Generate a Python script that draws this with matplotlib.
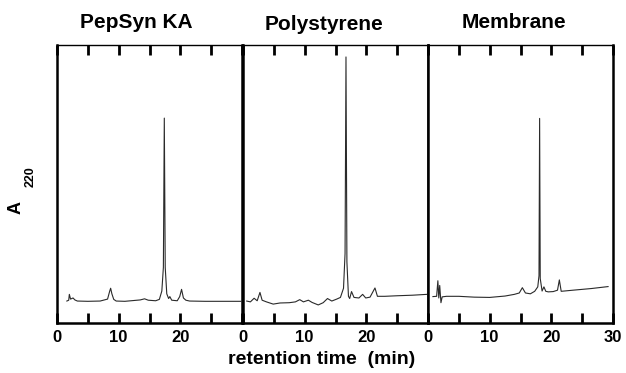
import matplotlib
matplotlib.use("Agg")
import matplotlib.pyplot as plt

plt.rcParams['font.family'] = ['Liberation Sans', 'DejaVu Sans']

titles = ["PepSyn KA", "Polystyrene", "Membrane"]

pepsyn_t = [1.6, 1.9, 2.0, 2.2, 2.6, 2.9, 3.3, 5.0, 7.0, 8.2, 8.55, 8.7, 8.9, 9.2, 9.6, 11.0,
            13.5, 14.2, 14.8, 16.0, 16.6, 17.0, 17.25, 17.4, 17.55, 17.8, 18.1, 18.3, 18.6,
            19.5, 19.9, 20.2, 20.5, 20.9, 21.5, 24.0, 27.0, 29.8]
pepsyn_a = [7.9, 8.2, 10.3, 8.6, 9.0, 8.3, 7.9, 7.8, 7.9, 8.6, 11.5, 12.5, 10.5, 8.5, 7.9, 7.8,
            8.3, 8.7, 8.2, 8.0, 8.5, 11.5, 20.0, 73.7, 20.0, 10.5, 8.8, 9.5, 8.2,
            8.0, 9.5, 12.1, 9.0, 8.2, 7.9, 7.8, 7.8, 7.8]

poly_t = [0.6, 1.2, 1.8, 2.3, 2.75, 3.1, 3.8, 4.9, 6.0, 7.5, 8.5, 9.2, 9.8, 10.6, 11.2, 12.2,
          13.0, 13.7, 14.4, 15.2, 15.8, 16.3, 16.55, 16.7, 16.85, 17.1, 17.3, 17.6, 18.0,
          18.8, 19.4, 19.9, 20.6, 21.4, 21.8, 23.0, 25.0, 27.5, 29.8]
poly_a = [7.9, 7.6, 8.9, 8.0, 11.0, 8.2, 7.6, 6.8, 7.2, 7.3, 7.6, 8.4, 7.6, 8.2, 7.4, 6.5,
          7.3, 8.8, 7.9, 8.6, 9.2, 12.5, 25.0, 95.7, 22.0, 9.6, 8.8, 11.3, 9.2,
          9.0, 10.3, 9.0, 9.3, 12.6, 9.6, 9.6, 9.8, 10.0, 10.3]

memb_t = [0.8, 1.4, 1.6, 1.75, 1.9, 2.1, 2.3, 3.0, 5.0, 7.5, 10.0, 12.5, 14.0, 14.8, 15.3,
          15.8, 16.6, 17.3, 17.8, 18.0, 18.1, 18.2, 18.5, 18.8, 19.1, 19.5, 20.3, 21.0,
          21.3, 21.6, 23.5, 26.5, 29.2]
memb_a = [9.5, 9.6, 15.2, 9.0, 13.5, 7.3, 9.4, 9.6, 9.6, 9.3, 9.2, 9.7, 10.3, 10.8, 12.7,
          10.8, 10.5, 11.4, 13.0, 17.0, 73.6, 16.0, 11.5, 13.0, 11.4, 11.2, 11.3, 11.8,
          15.5, 11.4, 11.8, 12.4, 13.1]

traces = [(pepsyn_t, pepsyn_a), (poly_t, poly_a), (memb_t, memb_a)]
tick_pos = [0, 5, 10, 15, 20, 25, 30]
tick_labels = [["0", "", "10", "", "20", "", ""],
               ["0", "", "10", "", "20", "", ""],
               ["0", "", "10", "", "20", "", "30"]]

W, H = 626, 373
fig = plt.figure(figsize=(W / 100, H / 100), dpi=100)
lefts = [57, 243, 428]
width = 185
top, bottom = 45, 323

title_pos = [(136, 23), (324, 25), (514, 23)]

for i in range(3):
    ax = fig.add_axes([lefts[i] / W, 1 - bottom / H, width / W, (bottom - top) / H])
    t, a = traces[i]
    ax.plot(t, a, color='#2a2a2a', lw=0.8)
    ax.set_xlim(0, 30)
    ax.set_ylim(0, 100)
    ax.set_yticks([])
    ax.set_xticks(tick_pos)
    ax.set_xticklabels(tick_labels[i], fontsize=12, fontweight='bold')
    ax.tick_params(axis='x', direction='in', top=True, length=7, width=2, pad=5)
    for s in ax.spines.values():
        s.set_linewidth(1.8)
    ax.spines['top'].set_linewidth(1.0)
    fig.text(title_pos[i][0] / W, 1 - title_pos[i][1] / H, titles[i],
             ha='center', va='center', fontsize=15, fontweight='bold')

fig.text(322 / W, 1 - 360 / H, "retention time  (min)", ha='center', va='center',
         fontsize=14, fontweight='bold')
fig.text(16 / W, 1 - 207 / H, "A", rotation=90, ha='center', va='center',
         fontsize=13, fontweight='bold')
fig.text(31 / W, 1 - 177 / H, "220", rotation=90, ha='center', va='center',
         fontsize=9, fontweight='bold')

fig.savefig("out.png", dpi=100)
